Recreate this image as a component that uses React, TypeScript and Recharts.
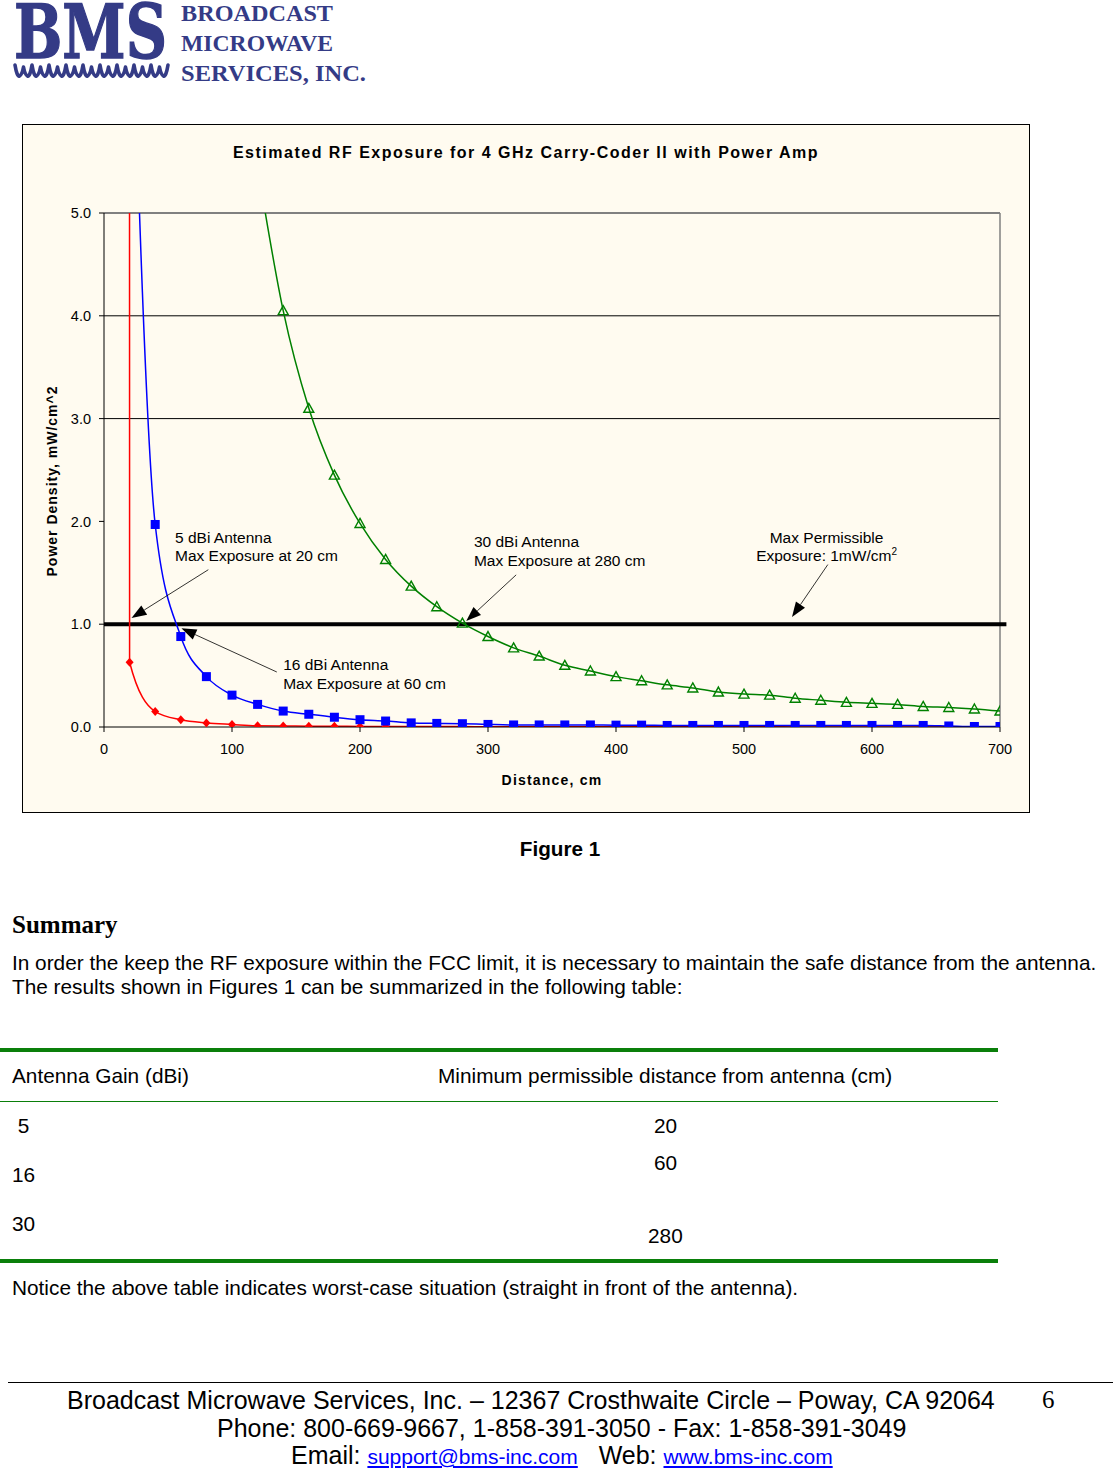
import React from "react";
import { LineChart, Line, XAxis, YAxis, ReferenceLine, ReferenceDot } from "recharts";

// distance from antenna, cm (one marker every 20 cm)
const distances = [
  20, 40, 60, 80, 100, 120, 140, 160, 180, 200, 220, 240, 260, 280, 300, 320, 340, 360,
  380, 400, 420, 440, 460, 480, 500, 520, 540, 560, 580, 600, 620, 640, 660, 680, 700,
];

// power density, mW/cm^2
const gain5 = [
  0.63, 0.15, 0.07, 0.04, 0.025, 0.012, 0.01, 0.008, 0.007, 0.006, 0.005, 0.005, 0.004, 0.004,
  0.003, 0.003, 0.003, 0.003, 0.002, 0.002, 0.002, 0.002, 0.002, 0.002, 0.002, 0.002, 0.001,
  0.001, 0.001, 0.001, 0.001, 0.001, 0.001, 0.001, 0.001,
];
const gain16 = [
  7.9, 1.97, 0.88, 0.49, 0.31, 0.22, 0.155, 0.124, 0.095, 0.071, 0.058, 0.04, 0.035, 0.032,
  0.025, 0.02, 0.02, 0.02, 0.02, 0.018, 0.018, 0.015, 0.015, 0.015, 0.015, 0.015, 0.015, 0.015,
  0.015, 0.015, 0.015, 0.015, 0.01, 0.005, 0.005,
];
const gain30 = [
  null, null, null, null, null, 5.45, 4.05, 3.1, 2.45, 1.98, 1.63, 1.37, 1.17, 1.01, 0.88, 0.77,
  0.69, 0.6, 0.545, 0.49, 0.45, 0.41, 0.38, 0.34, 0.32, 0.31, 0.28, 0.26, 0.24, 0.23, 0.22, 0.2,
  0.19, 0.175, 0.155,
];
// the 5 dBi trace runs off the top of the plot right at 20 cm
const gain5Lead = { d: 19.9, p: 8 };

const mpeLimit = 1.0;
const xTicks = [0, 100, 200, 300, 400, 500, 600, 700];
const yTicks = [0, 1, 2, 3, 4, 5];
const gridValues = [3, 4];

const tableRows = [
  { gain: " 5", dist: "20" },
  { gain: "16", dist: "60" },
  { gain: "30", dist: "280" },
];

const rows5 = [gain5Lead, ...distances.map((d, i) => ({ d, p: gain5[i] }))];
const rows16 = distances.map((d, i) => ({ d, p: gain16[i] }));
const rows30 = distances.map((d, i) => ({ d, p: gain30[i] })).filter((r) => r.p != null);

const SANS = "'Liberation Sans', Arial, sans-serif";
const SERIF = "'Liberation Serif', 'Times New Roman', serif";
const CREAM = "#FFFBF0";
const NAVY = "#343B86";
const GREEN = "#0A7F0A";

// annotation callouts: text block + arrow (tail -> tip), in chart units
const notes = [
  { lines: ["5 dBi Antenna", "Max Exposure at 20 cm"], at: [55.5, 1.79], anchor: "start", tail: [81.5, 1.53], tip: [21.5, 1.06] },
  { lines: ["16 dBi Antenna", "Max Exposure at 60 cm"], at: [140, 0.55], anchor: "start", tail: [135, 0.535], tip: [60.5, 0.96] },
  { lines: ["30 dBi Antenna", "Max Exposure at 280 cm"], at: [289, 1.75], anchor: "start", tail: [322, 1.48], tip: [283, 1.03] },
  { lines: ["Max Permissible", "Exposure: 1mW/cm"], at: [564.5, 1.79], anchor: "middle", tail: [565.5, 1.58], tip: [537.5, 1.07], sup: true },
];

const Arrow = (p: any) => {
  const { x1, y1, x2, y2 } = p;
  const a = Math.atan2(y2 - y1, x2 - x1);
  const L = 15;
  const W = 5.5;
  const bx = x2 - L * Math.cos(a);
  const by = y2 - L * Math.sin(a);
  const pts = `${x2},${y2} ${bx + W * Math.sin(a)},${by - W * Math.cos(a)} ${bx - W * Math.sin(a)},${by + W * Math.cos(a)}`;
  return (
    <g>
      <line x1={x1} y1={y1} x2={bx} y2={by} stroke="#000" strokeWidth={0.8} />
      <polygon points={pts} fill="#000" />
    </g>
  );
};

const noteText = (n: any) => (p: any) => (
  <text x={p.cx} y={p.cy} textAnchor={n.anchor} fontFamily={SANS} fontSize={15.5} fill="#000">
    <tspan x={p.cx}>{n.lines[0]}</tspan>
    <tspan x={p.cx} dy={18.5}>
      {n.lines[1]}
      {n.sup ? (
        <tspan dy={-6} fontSize={10}>
          2
        </tspan>
      ) : null}
    </tspan>
  </text>
);

const Diamond = (p: any) => {
  if (p.cx == null || p.cy == null) return <g key={p.index} />;
  const { cx, cy } = p;
  return <polygon key={p.index} points={`${cx},${cy - 4.5} ${cx + 4},${cy} ${cx},${cy + 4.5} ${cx - 4},${cy}`} fill="#FF0000" />;
};
const Square = (p: any) => {
  if (p.cx == null || p.cy == null) return <g key={p.index} />;
  return <rect key={p.index} x={p.cx - 4.5} y={p.cy - 4.5} width={9} height={9} fill="#0000FF" />;
};
const Triangle = (p: any) => {
  if (p.cx == null || p.cy == null) return <g key={p.index} />;
  const { cx, cy } = p;
  return (
    <polygon key={p.index} points={`${cx},${cy - 5} ${cx + 5},${cy + 4} ${cx - 5},${cy + 4}`} fill="none" stroke="#008000" strokeWidth={1.4} />
  );
};

const yLabel = (p: any) => {
  const vb = p.viewBox;
  const cx = vb.x + 29;
  const cy = vb.y + vb.height / 2 + 11;
  return (
    <text transform={`translate(${cx},${cy}) rotate(-90)`} textAnchor="middle" dy="0.35em" fontFamily={SANS} fontSize={14} fontWeight="bold" letterSpacing={1} fill="#000">
      Power Density, mW/cm^2
    </text>
  );
};

// cursive wave under the BMS letters
const wavePath = (() => {
  let d = "M 15 65";
  for (let i = 0; i < 9; i++) {
    const x = 15 + i * 17;
    d += ` Q ${x + 2} 77 ${x + 4.5} 76 Q ${x + 7} 75 ${x + 8.5} 67 Q ${x + 10} 75 ${x + 12.5} 76 Q ${x + 15} 77 ${x + 17} 65`;
  }
  return d;
})();

const abs = (left: number, top: number, extra: React.CSSProperties = {}): React.CSSProperties => ({
  position: "absolute",
  left,
  top,
  whiteSpace: "pre",
  ...extra,
});

export default function App() {
  return (
    <div style={{ position: "absolute", left: 0, top: 0, width: 1113, height: 1469, background: "#fff", fontFamily: SANS, color: "#000", overflow: "hidden" }}>
      {/* logo */}
      <svg style={{ position: "absolute", left: 0, top: 0 }} width={380} height={92}>
        <text transform="translate(14,58) scale(1,1.2)" fontFamily="'DejaVu Serif', serif" fontWeight="bold" fontSize={63} textLength={153} lengthAdjust="spacingAndGlyphs" fill={NAVY} stroke={NAVY} strokeWidth={1.2}>
          BMS
        </text>
        <path d={wavePath} fill="none" stroke={NAVY} strokeWidth={3.6} strokeLinecap="round" strokeLinejoin="round" />
        <text x={181} y={21} fontFamily={SERIF} fontWeight="bold" fontSize={24} textLength={152} lengthAdjust="spacingAndGlyphs" fill={NAVY}>
          BROADCAST
        </text>
        <text x={181} y={51} fontFamily={SERIF} fontWeight="bold" fontSize={24} textLength={152} lengthAdjust="spacingAndGlyphs" fill={NAVY}>
          MICROWAVE
        </text>
        <text x={181} y={81} fontFamily={SERIF} fontWeight="bold" fontSize={24} textLength={185} lengthAdjust="spacingAndGlyphs" fill={NAVY}>
          SERVICES, INC.
        </text>
      </svg>

      {/* chart */}
      <div style={{ position: "absolute", left: 22, top: 124, width: 1006, height: 687, border: "1px solid #000", background: CREAM }}>
        <div style={{ position: "absolute", left: 0, top: 19, width: 1006, textAlign: "center", fontSize: 16, lineHeight: "18px", fontWeight: "bold", letterSpacing: 1.5 }}>
          Estimated RF Exposure for 4 GHz Carry-Coder II with Power Amp
        </div>
        <LineChart width={1006} height={687} margin={{ top: 88, right: 29, bottom: 0, left: 0 }} style={{ position: "absolute", left: 0, top: 0 }}>
          <XAxis
            dataKey="d"
            type="number"
            domain={[0, 700]}
            ticks={xTicks}
            allowDataOverflow
            height={85}
            tickSize={5}
            tickMargin={12}
            stroke="#000"
            tick={{ fill: "#000", fontSize: 14.5, fontFamily: SANS }}
            label={{ value: "Distance, cm", position: "insideBottom", offset: 27, fill: "#000", fontSize: 14, fontWeight: "bold", fontFamily: SANS, letterSpacing: 1.2 }}
          />
          <YAxis
            dataKey="p"
            type="number"
            domain={[0, 5]}
            ticks={yTicks}
            allowDataOverflow
            width={81}
            tickSize={5}
            tickMargin={8}
            stroke="#000"
            tickFormatter={(v: number) => v.toFixed(1)}
            tick={{ fill: "#000", fontSize: 14.5, fontFamily: SANS }}
            label={{ content: yLabel }}
          />
          {gridValues.map((g) => (
            <ReferenceLine key={g} y={g} stroke="#000" strokeWidth={1} />
          ))}
          <ReferenceLine y={5} stroke="#808080" strokeWidth={2} />
          <ReferenceLine x={700} stroke="#808080" strokeWidth={1.5} />
          <ReferenceLine
            segment={[
              { x: 0, y: mpeLimit },
              { x: 705, y: mpeLimit },
            ]}
            ifOverflow="visible"
            stroke="#000"
            strokeWidth={4}
          />
          <Line data={rows5} dataKey="p" type="monotone" stroke="#FF0000" strokeWidth={1.5} dot={Diamond} activeDot={false} isAnimationActive={false} />
          <Line data={rows16} dataKey="p" type="monotone" stroke="#0000FF" strokeWidth={1.5} dot={Square} activeDot={false} isAnimationActive={false} />
          <Line data={rows30} dataKey="p" type="monotone" stroke="#008000" strokeWidth={1.5} dot={Triangle} activeDot={false} isAnimationActive={false} />
          {notes.map((n, i) => (
            <ReferenceLine
              key={`a${i}`}
              segment={[
                { x: n.tail[0], y: n.tail[1] },
                { x: n.tip[0], y: n.tip[1] },
              ]}
              shape={Arrow}
            />
          ))}
          {notes.map((n, i) => (
            <ReferenceDot key={`t${i}`} x={n.at[0]} y={n.at[1]} r={0} shape={noteText(n)} />
          ))}
        </LineChart>
      </div>

      <div style={abs(0, 837, { width: 1120, textAlign: "center", fontSize: 20.7, lineHeight: "24px", fontWeight: "bold" })}>Figure 1</div>

      <div style={abs(12, 910, { fontFamily: SERIF, fontSize: 25, lineHeight: "30px", fontWeight: "bold" })}>Summary</div>
      <div style={abs(12, 951, { fontSize: 20.8, lineHeight: "24px" })}>
        In order the keep the RF exposure within the FCC limit, it is necessary to maintain the safe distance from the antenna.
      </div>
      <div style={abs(12, 975, { fontSize: 20.8, lineHeight: "24px" })}>The results shown in Figures 1 can be summarized in the following table:</div>

      {/* table */}
      <div style={abs(0, 1048, { width: 998, height: 4, background: GREEN })} />
      <div style={abs(12, 1064, { fontSize: 20.8, lineHeight: "24px" })}>Antenna Gain (dBi)</div>
      <div style={abs(438, 1064, { fontSize: 20.8, lineHeight: "24px" })}>Minimum permissible distance from antenna (cm)</div>
      <div style={abs(0, 1101, { width: 998, height: 1, background: GREEN })} />
      <div style={abs(12, 1114, { fontSize: 20.8, lineHeight: "24px" })}>{tableRows[0].gain}</div>
      <div style={abs(654, 1114, { fontSize: 20.8, lineHeight: "24px" })}>{tableRows[0].dist}</div>
      <div style={abs(12, 1163, { fontSize: 20.8, lineHeight: "24px" })}>{tableRows[1].gain}</div>
      <div style={abs(654, 1151, { fontSize: 20.8, lineHeight: "24px" })}>{tableRows[1].dist}</div>
      <div style={abs(12, 1212, { fontSize: 20.8, lineHeight: "24px" })}>{tableRows[2].gain}</div>
      <div style={abs(648, 1224, { fontSize: 20.8, lineHeight: "24px" })}>{tableRows[2].dist}</div>
      <div style={abs(0, 1259, { width: 998, height: 4, background: GREEN })} />

      <div style={abs(12, 1276, { fontSize: 20.8, lineHeight: "24px" })}>
        Notice the above table indicates worst-case situation (straight in front of the antenna).
      </div>

      {/* footer */}
      <div style={abs(8, 1382, { width: 1105, height: 1, background: "#000" })} />
      <div style={abs(67, 1387, { fontSize: 25, lineHeight: "26px" })}>
        Broadcast Microwave Services, Inc. – 12367 Crosthwaite Circle – Poway, CA 92064
      </div>
      <div style={abs(1042, 1387, { fontFamily: SERIF, fontSize: 25, lineHeight: "26px" })}>6</div>
      <div style={abs(217, 1415, { fontSize: 25, lineHeight: "26px" })}>Phone: 800-669-9667, 1-858-391-3050 - Fax: 1-858-391-3049</div>
      <div style={abs(291, 1443, { fontSize: 25, lineHeight: "25px" })}>
        Email: <span style={{ color: "#0000FF", textDecoration: "underline", fontSize: 21 }}>support@bms-inc.com</span>
        {"   Web: "}
        <span style={{ color: "#0000FF", textDecoration: "underline", fontSize: 21 }}>www.bms-inc.com</span>
      </div>
    </div>
  );
}
